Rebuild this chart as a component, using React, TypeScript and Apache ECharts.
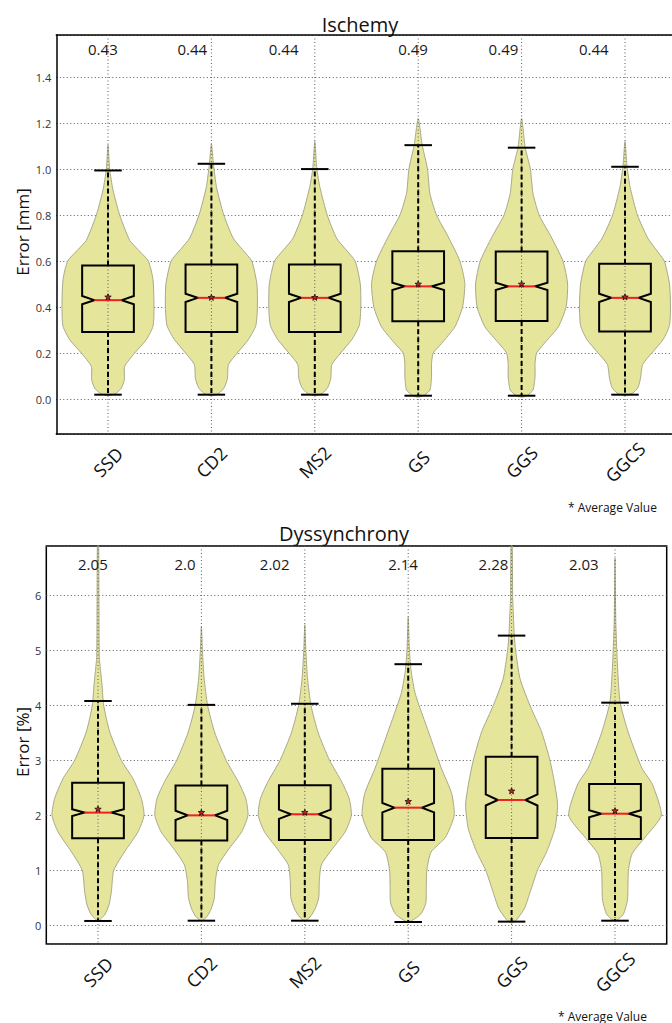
import React, { useEffect, useRef } from "react";
import * as echarts from "echarts";

const FONT = "'Open Sans', 'DejaVu Sans', sans-serif";

const categories = ["SSD", "CD2", "MS2", "GS", "GGS", "GGCS"];

// ---------- Ischemy (top) ----------
const ischMedian = [0.43, 0.44, 0.44, 0.49, 0.49, 0.44];
const ischMean = [0.443, 0.441, 0.441, 0.499, 0.499, 0.443];
const ischQ1 = [0.291, 0.291, 0.291, 0.338, 0.339, 0.294];
const ischQ3 = [0.581, 0.585, 0.585, 0.643, 0.642, 0.588];
const ischWhiskerLow = [0.019, 0.019, 0.019, 0.0145, 0.0145, 0.019];
const ischWhiskerHigh = [0.994, 1.023, 1.0, 1.104, 1.093, 1.01];
const ischNotch = [0.018, 0.018, 0.018, 0.016, 0.016, 0.018];
const ischLabelShift = [-0.193, -0.329, -0.445, -0.193, -0.319, -0.445];
// violin half-width profiles: [value, half width in category units]
const ischViolinSSD = [[1.106, 0], [1.0, 0.016], [0.91, 0.048], [0.8, 0.113], [0.69, 0.21], [0.65, 0.29], [0.6, 0.39], [0.52, 0.435], [0.4, 0.445], [0.316, 0.435], [0.258, 0.37], [0.2, 0.258], [0.142, 0.161], [0.084, 0.158], [0.048, 0.129], [0.026, 0.08], [0.014, 0]];
const ischViolinCD2 = [[1.11, 0], [1.02, 0.02], [0.92, 0.05], [0.8, 0.12], [0.7, 0.21], [0.65, 0.3], [0.6, 0.39], [0.5, 0.44], [0.4, 0.445], [0.32, 0.43], [0.26, 0.36], [0.2, 0.25], [0.15, 0.165], [0.09, 0.155], [0.05, 0.125], [0.026, 0.075], [0.014, 0]];
const ischViolinMS2 = [[1.12, 0], [1.0, 0.02], [0.92, 0.05], [0.8, 0.12], [0.7, 0.21], [0.65, 0.3], [0.6, 0.39], [0.5, 0.44], [0.4, 0.445], [0.32, 0.43], [0.26, 0.36], [0.2, 0.25], [0.15, 0.165], [0.09, 0.155], [0.05, 0.125], [0.026, 0.075], [0.014, 0]];
const ischViolinGS = [[1.22, 0], [1.104, 0.039], [1.0, 0.09], [0.894, 0.113], [0.8, 0.177], [0.706, 0.29], [0.6, 0.403], [0.503, 0.451], [0.4, 0.429], [0.314, 0.355], [0.242, 0.226], [0.2, 0.145], [0.155, 0.129], [0.097, 0.129], [0.039, 0.113], [0.014, 0.05], [0.008, 0]];
const ischViolinGGS = [[1.22, 0], [1.093, 0.035], [1.0, 0.085], [0.894, 0.11], [0.8, 0.17], [0.706, 0.285], [0.6, 0.4], [0.5, 0.445], [0.4, 0.43], [0.314, 0.355], [0.242, 0.22], [0.2, 0.145], [0.155, 0.13], [0.097, 0.13], [0.039, 0.11], [0.014, 0.05], [0.008, 0]];
const ischViolinGGCS = [[1.12, 0], [1.01, 0.02], [0.92, 0.05], [0.8, 0.12], [0.7, 0.22], [0.65, 0.3], [0.6, 0.38], [0.5, 0.43], [0.4, 0.44], [0.32, 0.43], [0.26, 0.37], [0.2, 0.26], [0.15, 0.17], [0.09, 0.15], [0.05, 0.125], [0.026, 0.075], [0.014, 0]];

// ---------- Dyssynchrony (bottom) ----------
const dysMedian = [2.05, 2.0, 2.02, 2.14, 2.28, 2.03];
const dysMean = [2.11, 2.05, 2.05, 2.25, 2.44, 2.08];
const dysQ1 = [1.582, 1.545, 1.55, 1.55, 1.588, 1.57];
const dysQ3 = [2.594, 2.545, 2.55, 2.85, 3.067, 2.57];
const dysWhiskerLow = [0.079, 0.084, 0.084, 0.06, 0.067, 0.084];
const dysWhiskerHigh = [4.08, 4.01, 4.03, 4.75, 5.27, 4.05];
const dysNotch = [0.06, 0.085, 0.085, 0.085, 0.1, 0.065];
const dysLabelShift = [-0.193, -0.261, -0.435, -0.193, -0.319, -0.445];
const dysViolinSSD = [[6.9, 0.006], [4.9, 0.012], [4.61, 0.026], [4.37, 0.039], [4.0, 0.055], [3.52, 0.113], [3.0, 0.226], [2.67, 0.338], [2.31, 0.419], [2.0, 0.445], [1.7, 0.387], [1.34, 0.258], [1.0, 0.152], [0.61, 0.129], [0.37, 0.106], [0.19, 0.064], [0.08, 0]];
const dysViolinCD2 = [[5.44, 0], [5.0, 0.01], [4.5, 0.026], [4.0, 0.06], [3.5, 0.13], [3.0, 0.24], [2.6, 0.36], [2.3, 0.43], [2.0, 0.45], [1.7, 0.39], [1.4, 0.27], [1.1, 0.165], [0.8, 0.135], [0.5, 0.125], [0.3, 0.095], [0.15, 0.05], [0.08, 0]];
const dysViolinMS2 = [[5.47, 0], [5.0, 0.01], [4.5, 0.026], [4.0, 0.06], [3.5, 0.13], [3.0, 0.24], [2.6, 0.36], [2.3, 0.43], [2.0, 0.45], [1.7, 0.39], [1.4, 0.27], [1.1, 0.16], [0.8, 0.14], [0.5, 0.135], [0.3, 0.1], [0.15, 0.05], [0.08, 0]];
const dysViolinGS = [[5.61, 0], [5.0, 0.012], [4.6, 0.03], [4.2, 0.07], [3.5, 0.2], [2.86, 0.32], [2.4, 0.42], [2.0, 0.445], [1.6, 0.36], [1.33, 0.22], [1.0, 0.18], [0.7, 0.175], [0.4, 0.17], [0.2, 0.12], [0.06, 0]];
const dysViolinGGS = [[6.9, 0.006], [6.0, 0.01], [5.7, 0.016], [5.27, 0.026], [5.0, 0.039], [4.49, 0.081], [4.0, 0.177], [3.52, 0.29], [3.0, 0.371], [2.55, 0.419], [2.19, 0.445], [1.76, 0.419], [1.34, 0.339], [1.0, 0.25], [0.61, 0.18], [0.31, 0.125], [0.1, 0.048], [0.04, 0]];
const dysViolinGGCS = [[6.68, 0], [5.5, 0.008], [4.64, 0.026], [4.05, 0.05], [3.5, 0.13], [2.86, 0.26], [2.57, 0.36], [2.0, 0.448], [1.6, 0.29], [1.3, 0.165], [1.0, 0.13], [0.7, 0.125], [0.45, 0.12], [0.2, 0.08], [0.08, 0]];

const ischViolins = [ischViolinSSD, ischViolinCD2, ischViolinMS2, ischViolinGS, ischViolinGGS, ischViolinGGCS];
const dysViolins = [dysViolinSSD, dysViolinCD2, dysViolinMS2, dysViolinGS, dysViolinGGS, dysViolinGGCS];

const fmtLabel = (v: number) => {
  const s = String(v);
  return s.includes(".") ? s : s + ".0";
};

const VIOLIN_FILL = "#e5e59b";
const VIOLIN_EDGE = "#a9a98a";
const GRID_DOT = "#5a5a5a";
const BOX_HALF = 0.25;
const NOTCH_HALF = 0.133;
const CAP_HALF = 0.133;

function makeSeries(
  idx: number,
  violins: number[][][],
  med: number[],
  mean: number[],
  q1: number[],
  q3: number[],
  lo: number[],
  hi: number[],
  notch: number[],
  shift: number[],
  labelValue: number
) {
  return {
    type: "custom",
    xAxisIndex: idx,
    yAxisIndex: idx,
    silent: true,
    data: categories.map((_, i) => [i, med[i]]),
    encode: { x: 0, y: 1 },
    renderItem: (params: any, api: any) => {
      const i = params.dataIndex;
      const bw = api.size([1, 0])[0];
      const cx = api.coord([i, med[i]])[0];
      const py = (v: number) => api.coord([i, v])[1];
      const cs = params.coordSys;
      const prof = violins[i];
      const right = prof.map(([v, h]) => [cx + h * bw, py(v)]);
      const left = prof
        .slice()
        .reverse()
        .filter(([, h]) => h > 0)
        .map(([v, h]) => [cx - h * bw, py(v)]);
      const pts = right.concat(left);

      const bx = BOX_HALF * bw;
      const nx = NOTCH_HALF * bw;
      const capx = CAP_HALF * bw;
      const yMed = py(med[i]);
      const yNU = py(med[i] + notch[i]);
      const yNL = py(med[i] - notch[i]);
      const yQ1 = py(q1[i]);
      const yQ3 = py(q3[i]);
      const boxPts = [
        [cx - bx, yQ3],
        [cx + bx, yQ3],
        [cx + bx, yNU],
        [cx + nx, yMed],
        [cx + bx, yNL],
        [cx + bx, yQ1],
        [cx - bx, yQ1],
        [cx - bx, yNL],
        [cx - nx, yMed],
        [cx - bx, yNU],
      ];
      const mx = cx;
      const my = py(mean[i]);
      const star: number[][] = [];
      for (let k = 0; k < 10; k++) {
        const a = -Math.PI / 2 + (k * Math.PI) / 5;
        const r = k % 2 === 0 ? 3.4 : 1.4;
        star.push([mx + r * Math.cos(a), my + r * Math.sin(a)]);
      }
      const dash = { stroke: "#000", lineWidth: 2, lineDash: [5, 3] };
      return {
        type: "group",
        children: [
          { type: "polygon", shape: { points: pts, smooth: 0.2 }, style: { fill: VIOLIN_FILL, stroke: VIOLIN_EDGE, lineWidth: 1 } },
          { type: "line", shape: { x1: cx, y1: cs.y, x2: cx, y2: cs.y + cs.height }, style: { stroke: GRID_DOT, lineWidth: 1, lineDash: [1, 2.5] } },
          { type: "line", shape: { x1: cx, y1: yQ3, x2: cx, y2: py(hi[i]) }, style: dash },
          { type: "line", shape: { x1: cx, y1: yQ1, x2: cx, y2: py(lo[i]) }, style: dash },
          { type: "line", shape: { x1: cx - capx, y1: py(hi[i]), x2: cx + capx, y2: py(hi[i]) }, style: { stroke: "#000", lineWidth: 2 } },
          { type: "line", shape: { x1: cx - capx, y1: py(lo[i]), x2: cx + capx, y2: py(lo[i]) }, style: { stroke: "#000", lineWidth: 2 } },
          { type: "polygon", shape: { points: boxPts }, style: { fill: "none", stroke: "#000", lineWidth: 2 } },
          { type: "line", shape: { x1: cx - nx, y1: yMed, x2: cx + nx, y2: yMed }, style: { stroke: "#ee2020", lineWidth: 2 } },
          { type: "polygon", shape: { points: star }, style: { fill: "#c81e1e", stroke: "#111", lineWidth: 0.8 } },
          {
            type: "text",
            x: cx + shift[i] * bw,
            y: py(labelValue),
            style: {
              text: fmtLabel(med[i]),
              fontSize: 15,
              fontFamily: FONT,
              fill: "#1a1a1a",
              textAlign: "left",
              textVerticalAlign: "middle",
            },
          },
        ],
      };
    },
  };
}

const splitLine = { show: true, lineStyle: { color: GRID_DOT, width: 1, type: [1, 2.5] } };
const frameLine = { show: true, onZero: false, lineStyle: { color: "#000", width: 1.5 } };

const xAxisBase = (gi: number, withLine: boolean) => ({
  gridIndex: gi,
  type: "category",
  data: categories,
  axisLine: withLine ? frameLine : { show: false },
  axisTick: { show: false },
  splitLine: { show: false },
  axisLabel: {
    interval: 0,
    rotate: 45,
    align: "center",
    verticalAlign: "middle",
    margin: 28,
    fontSize: 18,
    fontFamily: FONT,
    color: "#111",
  },
});

export default function App() {
  const ref = useRef<HTMLDivElement>(null);
  useEffect(() => {
    if (!ref.current) return;
    const chart = echarts.init(ref.current, null, { renderer: "svg" });
    const option: any = {
      animation: false,
      backgroundColor: "#fff",
      grid: [
        { left: 56.3, top: 35, width: 620.4, height: 399, show: false, containLabel: false, outerBoundsMode: "none" },
        { left: 46.3, top: 546, width: 620.4, height: 398, show: true, borderColor: "#000", borderWidth: 1.5, backgroundColor: "transparent", containLabel: false, outerBoundsMode: "none" },
      ],
      xAxis: [
        xAxisBase(0, true),
        xAxisBase(1, false),
        {
          gridIndex: 0,
          type: "category",
          position: "top",
          data: categories,
          axisLine: frameLine,
          axisTick: { show: false },
          axisLabel: { show: false },
          splitLine: { show: false },
        },
      ],
      yAxis: [
        {
          gridIndex: 0,
          type: "value",
          min: -0.152,
          max: 1.583,
          minInterval: 0.2,
          maxInterval: 0.2,
          axisLine: frameLine,
          axisTick: { show: false },
          splitLine,
          axisLabel: {
            margin: 5,
            fontSize: 11,
            fontFamily: FONT,
            color: "#333",
            formatter: (v: number) => (Math.abs(v / 0.2 - Math.round(v / 0.2)) < 1e-6 ? v.toFixed(1) : ""),
          },
        },
        {
          gridIndex: 1,
          type: "value",
          min: -0.34,
          max: 6.9,
          minInterval: 1,
          maxInterval: 1,
          axisLine: { show: false },
          axisTick: { show: false },
          splitLine,
          axisLabel: {
            margin: 5,
            fontSize: 11,
            fontFamily: FONT,
            color: "#333",
            formatter: (v: number) => (Math.abs(v - Math.round(v)) < 1e-6 ? String(Math.round(v)) : ""),
          },
        },
      ],
      graphic: [
        { type: "text", x: 360, y: 24, style: { text: "Ischemy", fontSize: 20, fontFamily: FONT, fill: "#111", textAlign: "center", textVerticalAlign: "middle" } },
        { type: "text", x: 344, y: 533, style: { text: "Dyssynchrony", fontSize: 20, fontFamily: FONT, fill: "#111", textAlign: "center", textVerticalAlign: "middle" } },
        { type: "text", x: 22, y: 232, rotation: Math.PI / 2, style: { text: "Error [mm]", fontSize: 17, fontFamily: FONT, fill: "#111", textAlign: "center", textVerticalAlign: "middle" } },
        { type: "text", x: 22, y: 742, rotation: Math.PI / 2, style: { text: "Error [%]", fontSize: 17, fontFamily: FONT, fill: "#111", textAlign: "center", textVerticalAlign: "middle" } },
        { type: "text", x: 568, y: 507, style: { text: "* Average Value", fontSize: 12, fontFamily: FONT, fill: "#111", textAlign: "left", textVerticalAlign: "middle" } },
        { type: "text", x: 558, y: 1016, style: { text: "* Average Value", fontSize: 12, fontFamily: FONT, fill: "#111", textAlign: "left", textVerticalAlign: "middle" } },
      ],
      series: [
        makeSeries(0, ischViolins, ischMedian, ischMean, ischQ1, ischQ3, ischWhiskerLow, ischWhiskerHigh, ischNotch, ischLabelShift, 1.523),
        makeSeries(1, dysViolins, dysMedian, dysMean, dysQ1, dysQ3, dysWhiskerLow, dysWhiskerHigh, dysNotch, dysLabelShift, 6.578),
      ],
    };
    chart.setOption(option);
    return () => chart.dispose();
  }, []);
  return <div ref={ref} style={{ position: "absolute", left: 0, top: 0, width: 672, height: 1023 }} />;
}
